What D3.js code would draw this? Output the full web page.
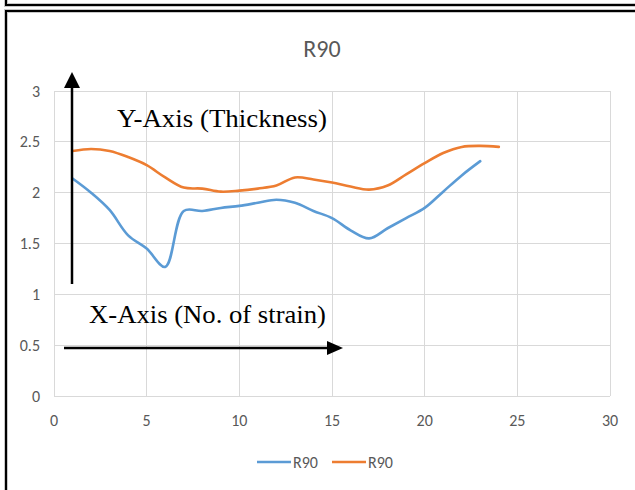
<!DOCTYPE html>
<html>
<head>
<meta charset="utf-8">
<script src="https://cdn.jsdelivr.net/npm/d3@7"></script>
<style>
  body { margin: 0; background: #fff; }
  svg text { font-family: Carlito, "Liberation Sans Narrow", "Open Sans", sans-serif; }
  .note { font-family: "Liberation Serif", "Times New Roman", serif !important; }
</style>
</head>
<body>
<div id="chart"></div>
<script>
// values
var xBlue = [1,2,3,4,5,6,7,8,9,10,11,12,13,14,15,16,17,18,19,20,21,22,23];
var blueVals = [2.14,2.0,1.83,1.58,1.45,1.27,1.82,1.82,1.85,1.87,1.9,1.93,1.9,1.82,1.75,1.63,1.55,1.65,1.75,1.85,2.01,2.17,2.31];
var xOrange = [1,2,3,4,5,6,7,8,9,10,11,12,13,14,15,16,17,18,19,20,21,22,23,24];
var orangeVals = [2.41,2.43,2.41,2.35,2.27,2.15,2.05,2.04,2.01,2.02,2.04,2.07,2.15,2.13,2.1,2.06,2.03,2.07,2.18,2.29,2.39,2.45,2.46,2.45];
var xTicks = [0,5,10,15,20,25,30];
var yTicks = [0,0.5,1,1.5,2,2.5,3];
var seriesNames = ["R90", "R90"];
var seriesColors = ["#5B9BD5", "#ED7D31"];

var width = 635, height = 490;
var svg = d3.select("#chart").append("svg")
  .attr("width", width)
  .attr("height", height);

// frame lines round the picture
var frame = svg.append("g");
frame.append("path").attr("d", "M6,0 V5 H635").attr("fill", "none").attr("stroke", "#c8c8c8").attr("stroke-width", 4);
frame.append("path").attr("d", "M6,0 V5 H635").attr("fill", "none").attr("stroke", "#000").attr("stroke-width", 2);
frame.append("path").attr("d", "M6,490 V11 H635").attr("fill", "none").attr("stroke", "#c8c8c8").attr("stroke-width", 4);
frame.append("path").attr("d", "M6,490 V11 H635").attr("fill", "none").attr("stroke", "#000").attr("stroke-width", 2);

var x = d3.scaleLinear().domain([0, 30]).range([54, 610]);
var y = d3.scaleLinear().domain([0, 3]).range([396, 91]);

// gridlines
svg.append("g").selectAll("line.v")
  .data(xTicks).enter().append("line")
  .attr("x1", function (d) { return x(d); })
  .attr("x2", function (d) { return x(d); })
  .attr("y1", y(0)).attr("y2", y(3))
  .attr("stroke", "#d9d9d9").attr("stroke-width", 1)
  .attr("shape-rendering", "crispEdges");
svg.append("g").selectAll("line.h")
  .data(yTicks).enter().append("line")
  .attr("x1", x(0)).attr("x2", x(30))
  .attr("y1", function (d) { return y(d); })
  .attr("y2", function (d) { return y(d); })
  .attr("stroke", "#d9d9d9").attr("stroke-width", 1)
  .attr("shape-rendering", "crispEdges");

// tick labels
svg.append("g").selectAll("text")
  .data(yTicks).enter().append("text")
  .attr("x", 40).attr("y", function (d) { return y(d) + 5.5; })
  .attr("text-anchor", "end")
  .attr("font-size", 16).attr("fill", "#595959")
  .text(function (d) { return d; });
svg.append("g").selectAll("text")
  .data(xTicks).enter().append("text")
  .attr("x", function (d) { return x(d); }).attr("y", 426)
  .attr("text-anchor", "middle")
  .attr("font-size", 16).attr("fill", "#595959")
  .text(function (d) { return d; });

// title
svg.append("text")
  .attr("x", 322).attr("y", 57)
  .attr("text-anchor", "middle")
  .attr("font-size", 24).attr("fill", "#595959")
  .text("R90");

// series lines
var line = d3.line()
  .x(function (d) { return x(d[0]); })
  .y(function (d) { return y(d[1]); })
  .curve(d3.curveCatmullRom.alpha(0.5));

var series = [d3.zip(xBlue, blueVals), d3.zip(xOrange, orangeVals)];
svg.append("g").selectAll("path")
  .data(series).enter().append("path")
  .attr("d", line)
  .attr("fill", "none")
  .attr("stroke", function (d, i) { return seriesColors[i]; })
  .attr("stroke-width", 2.6)
  .attr("stroke-linecap", "round");

// legend
var legend = svg.append("g").selectAll("g")
  .data(seriesNames).enter().append("g")
  .attr("transform", function (d, i) { return "translate(" + (257 + i * 75) + ",462)"; });
legend.append("line")
  .attr("x1", 0).attr("x2", 34).attr("y1", 0).attr("y2", 0)
  .attr("stroke", function (d, i) { return seriesColors[i]; })
  .attr("stroke-width", 2.6);
legend.append("text")
  .attr("x", 36).attr("y", 6)
  .attr("font-size", 16).attr("fill", "#595959")
  .text(function (d) { return d; });

// arrows and notes drawn over the chart
svg.append("line")
  .attr("x1", 72).attr("y1", 284).attr("x2", 72).attr("y2", 88)
  .attr("stroke", "#000").attr("stroke-width", 2.5);
svg.append("path")
  .attr("d", "M72,72 L80,88 L64,88 Z").attr("fill", "#000");

svg.append("line")
  .attr("x1", 64).attr("y1", 348).attr("x2", 328).attr("y2", 348)
  .attr("stroke", "#000").attr("stroke-width", 2.5);
svg.append("path")
  .attr("d", "M343,348 L327,341 L327,355 Z").attr("fill", "#000");

svg.append("text").attr("class", "note")
  .attr("x", 117).attr("y", 127)
  .attr("font-size", 26)
  .attr("textLength", 210).attr("lengthAdjust", "spacingAndGlyphs")
  .attr("fill", "#000")
  .text("Y-Axis (Thickness)");
svg.append("text").attr("class", "note")
  .attr("x", 89).attr("y", 323)
  .attr("font-size", 26)
  .attr("textLength", 237).attr("lengthAdjust", "spacingAndGlyphs")
  .attr("fill", "#000")
  .text("X-Axis (No. of strain)");
</script>
</body>
</html>
